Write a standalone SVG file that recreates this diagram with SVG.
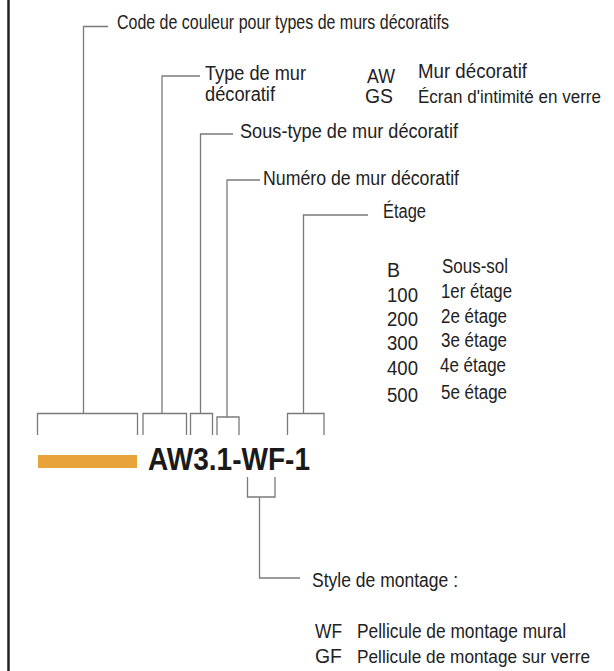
<svg xmlns="http://www.w3.org/2000/svg" width="614" height="671" viewBox="0 0 614 671">
<style>
.t{font-family:"Liberation Sans Narrow","Liberation Sans",Arial,sans-serif;font-size:19.5px;fill:#222}
.s{font-size:17.5px}
.code{font-family:"Liberation Sans Narrow","Liberation Sans",Arial,sans-serif;font-size:32px;font-weight:bold;fill:#1a1a1a}
.ln{stroke:#7a7a7a;stroke-width:1.3;fill:none}
</style>
<rect width="614" height="671" fill="#fff"/>
<line x1="8.5" y1="0" x2="8.5" y2="671" stroke="#222" stroke-width="2.5"/>
<g id="connectors">
<path class="ln" d="M37.5,435 V413.5 H137.5 V435 M83.5,413.5 V26.5 H108"/>
<path class="ln" d="M143,435 V413.5 H186.5 V435 M162,413.5 V76 H200"/>
<path class="ln" d="M190.5,435 V413.5 H212.5 V435 M200.5,413.5 V134 H233"/>
<path class="ln" d="M217,435 V417 H239 V435 M227,417 V180 H260"/>
<path class="ln" d="M287.5,435 V413.5 H324 V435 M303.5,413.5 V215 H368"/>
<path class="ln" d="M247.5,477 V497 H275 V477 M259.5,497 V578 H300"/>
</g>
<g id="code">
<rect x="38" y="455" width="99" height="13" fill="#E8A33A"/>
<text class="code" x="148" y="470" textLength="162" lengthAdjust="spacingAndGlyphs">AW3.1-WF-1</text>
</g>
<g id="color-code">
<text class="t" x="117" y="29" textLength="332" lengthAdjust="spacingAndGlyphs">Code de couleur pour types de murs décoratifs</text>
</g>
<g id="wall-type">
<text class="t" x="205" y="80" textLength="101" lengthAdjust="spacingAndGlyphs">Type de mur</text>
<text class="t" x="205" y="101" textLength="70" lengthAdjust="spacingAndGlyphs">décoratif</text>
<text class="t" x="367" y="83" textLength="28" lengthAdjust="spacingAndGlyphs">AW</text>
<text class="t" x="418" y="78" textLength="109" lengthAdjust="spacingAndGlyphs">Mur décoratif</text>
<text class="t" x="365" y="103" textLength="28" lengthAdjust="spacingAndGlyphs">GS</text>
<text class="t s" x="418" y="103" textLength="183" lengthAdjust="spacingAndGlyphs">Écran d'intimité en verre</text>
</g>
<g id="subtype">
<text class="t" x="240" y="138" textLength="218" lengthAdjust="spacingAndGlyphs">Sous-type de mur décoratif</text>
</g>
<g id="number">
<text class="t" x="263" y="185" textLength="196" lengthAdjust="spacingAndGlyphs">Numéro de mur décoratif</text>
</g>
<g id="floor">
<text class="t" x="383" y="218" textLength="43" lengthAdjust="spacingAndGlyphs">Étage</text>
<text class="t" x="387" y="277">B</text>
<text class="t" x="442" y="273" textLength="66" lengthAdjust="spacingAndGlyphs">Sous-sol</text>
<text class="t" x="387" y="302" textLength="31" lengthAdjust="spacingAndGlyphs">100</text>
<text class="t" x="441" y="298" textLength="71" lengthAdjust="spacingAndGlyphs">1er étage</text>
<text class="t" x="387" y="326" textLength="31" lengthAdjust="spacingAndGlyphs">200</text>
<text class="t" x="441" y="323" textLength="66" lengthAdjust="spacingAndGlyphs">2e étage</text>
<text class="t" x="387" y="350" textLength="31" lengthAdjust="spacingAndGlyphs">300</text>
<text class="t" x="441" y="347" textLength="66" lengthAdjust="spacingAndGlyphs">3e étage</text>
<text class="t" x="387" y="375" textLength="31" lengthAdjust="spacingAndGlyphs">400</text>
<text class="t" x="440" y="372" textLength="66" lengthAdjust="spacingAndGlyphs">4e étage</text>
<text class="t" x="387" y="402" textLength="31" lengthAdjust="spacingAndGlyphs">500</text>
<text class="t" x="441" y="399" textLength="66" lengthAdjust="spacingAndGlyphs">5e étage</text>
</g>
<g id="mounting">
<text class="t" x="312" y="587" textLength="146" lengthAdjust="spacingAndGlyphs">Style de montage :</text>
<text class="t" x="315" y="638" textLength="27" lengthAdjust="spacingAndGlyphs">WF</text>
<text class="t" x="357" y="638" textLength="209" lengthAdjust="spacingAndGlyphs">Pellicule de montage mural</text>
<text class="t" x="315" y="663" textLength="27" lengthAdjust="spacingAndGlyphs">GF</text>
<text class="t s" x="357" y="663" textLength="233" lengthAdjust="spacingAndGlyphs">Pellicule de montage sur verre</text>
</g>
</svg>
